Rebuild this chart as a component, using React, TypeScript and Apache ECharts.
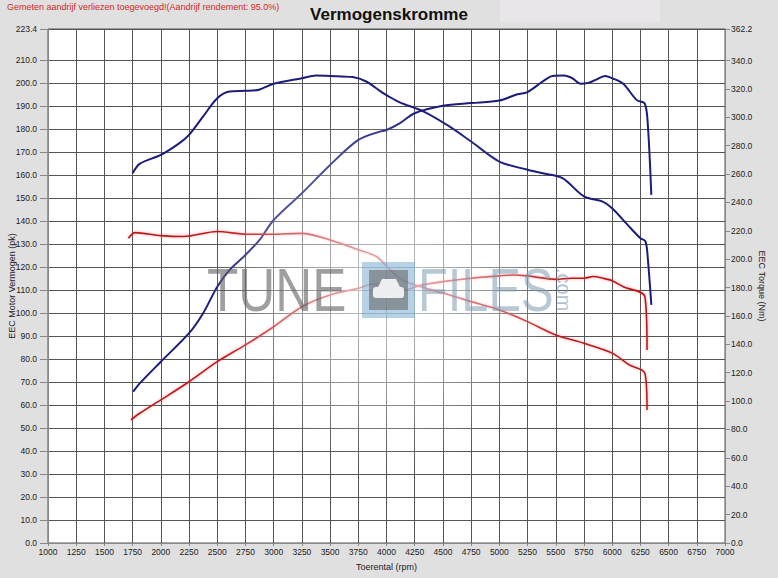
import React, { useEffect, useRef } from "react";
import * as echarts from "echarts";

// ---- Data ----
const tunedPowerRpm = [1755, 1813, 2000, 2250, 2375, 2500, 2610, 2750, 2875, 3000, 3250, 3500, 3750, 3940, 4000, 4120, 4250, 4500, 4750, 5000, 5146, 5250, 5385, 5470, 5573, 5647, 5721, 5795, 5854, 5937, 6000, 6098, 6216, 6290, 6317, 6347];
const tunedPowerPk = [65.8, 69.4, 78.8, 91.2, 99.9, 111.4, 118.7, 125.2, 131.7, 140.4, 152.0, 164.3, 175.2, 178.8, 179.5, 182.5, 186.8, 190.0, 191.2, 192.3, 194.8, 196.0, 200.6, 203.0, 203.2, 202.0, 199.6, 200.1, 201.3, 203.0, 202.0, 199.6, 192.6, 190.9, 181.0, 151.3];

const tunedTorqueRpm = [1750, 1812, 2000, 2165, 2250, 2375, 2500, 2610, 2750, 2870, 3000, 3250, 3375, 3500, 3700, 3820, 3950, 4030, 4117, 4330, 4550, 4750, 5000, 5250, 5385, 5560, 5750, 5916, 6000, 6151, 6250, 6296, 6317, 6347];
const tunedTorqueNm = [260.5, 267.2, 273.5, 281.8, 287.6, 300.6, 313.4, 318.1, 318.6, 319.4, 323.6, 327.5, 329.4, 329.1, 328.3, 325.2, 318.1, 314.2, 310.5, 304.0, 293.9, 282.9, 268.8, 263.0, 260.5, 257.1, 244.2, 240.6, 235.9, 222.9, 214.8, 212.4, 199.4, 167.8];

const stockPowerRpm = [1735, 1813, 2000, 2250, 2500, 2750, 3000, 3250, 3500, 3750, 3880, 3998, 4100, 4146, 4323, 4500, 4750, 5000, 5117, 5250, 5500, 5638, 5750, 5833, 5916, 6000, 6098, 6290, 6309];
const stockPowerPk = [53.5, 56.4, 62.2, 70.1, 78.8, 86.1, 94.0, 102.7, 107.8, 110.7, 112.6, 112.2, 110.3, 110.0, 112.2, 113.6, 115.1, 116.1, 116.5, 116.1, 114.6, 115.1, 115.1, 115.8, 115.1, 114.0, 111.4, 107.1, 83.9];

const stockTorqueRpm = [1713, 1772, 2000, 2198, 2500, 2760, 3000, 3250, 3500, 3750, 3910, 4028, 4117, 4205, 4500, 4750, 5000, 5250, 5500, 5750, 6000, 6151, 6290, 6309];
const stockTorqueNm = [214.8, 218.7, 216.6, 216.0, 219.5, 217.6, 217.6, 218.2, 213.5, 206.6, 201.9, 192.9, 186.6, 183.0, 176.1, 170.1, 164.2, 156.0, 146.6, 140.7, 133.8, 125.5, 119.7, 93.7];

const leftTicks = [0, 10, 20, 30, 40, 50, 60, 70, 80, 90, 100, 110, 120, 130, 140, 150, 160, 170, 180, 190, 200, 210, 223.4];
const rightTicks = [0, 20, 40, 60, 80, 100, 120, 140, 160, 180, 200, 220, 240, 260, 280, 300, 320, 340, 362.2];

const titleText = "Vermogenskromme";
const noteText = "Gemeten aandrijf verliezen toegevoegd!(Aandrijf rendement: 95.0%)";

const zip = (xs: number[], ys: number[]) => xs.map((x, i) => [x, ys[i]]);

const FONT = "Liberation Sans, Arial, sans-serif";

export default function App() {
  const ref = useRef<HTMLDivElement>(null);

  useEffect(() => {
    if (!ref.current) return;
    const chart = echarts.init(ref.current, undefined, { renderer: "svg" });

    const blue = "#1c1c7c";
    const red = "#b8181c";
    const redLine = {
      color: red,
      width: 1.6,
      shadowColor: "rgba(255,80,80,0.55)",
      shadowBlur: 3,
    };
    const blueLine = { color: blue, width: 2 };

    const option: any = {
      animation: false,
      backgroundColor: "#e0e0e0",
      textStyle: { fontFamily: FONT },
      title: {
        text: titleText,
        left: "center",
        top: 1,
        textStyle: { fontSize: 17, fontWeight: "bold", color: "#111", fontFamily: FONT },
      },
      grid: {
        left: 48,
        right: 53,
        top: 29,
        bottom: 35,
        outerBoundsMode: "none",
        containLabel: false,
        show: true,
        backgroundColor: "#ffffff",
        borderColor: "#555",
        borderWidth: 1,
      },
      xAxis: {
        type: "value",
        min: 1000,
        max: 7000,
        interval: 250,
        name: "Toerental (rpm)",
        nameLocation: "middle",
        nameGap: 19,
        nameTextStyle: { fontSize: 9, color: "#222", fontFamily: FONT },
        axisLine: { show: true, lineStyle: { color: "#888" } },
        axisTick: { show: true, length: 3, lineStyle: { color: "#888" } },
        axisLabel: {
          fontSize: 8.5,
          color: "#222",
          margin: 4,
          fontFamily: FONT,
          formatter: (v: number) => String(v),
        },
        splitLine: { show: true, lineStyle: { color: "#555", width: 1 } },
      },
      yAxis: [
        {
          type: "value",
          position: "left",
          min: 0,
          max: 223.4,
          interval: 10,
          name: "EEC Motor Vermogen (pk)",
          nameLocation: "middle",
          nameGap: 32,
          nameMoveOverlap: false,
          nameTextStyle: { fontSize: 9, color: "#222", fontFamily: FONT },
          axisLine: { show: true, lineStyle: { color: "#888" } },
          axisTick: { show: true, length: 8, customValues: leftTicks, lineStyle: { color: "#888" } },
          axisLabel: {
            fontSize: 8.5,
            color: "#222",
            margin: 11,
            fontFamily: FONT,
            customValues: leftTicks,
            formatter: (v: number) => v.toFixed(1),
          },
          splitLine: { show: true, lineStyle: { color: "#555", width: 1 } },
        },
        {
          type: "value",
          position: "right",
          min: 0,
          max: 362.2,
          interval: 20,
          name: "EEC Torque (Nm)",
          nameLocation: "middle",
          nameRotate: -90,
          nameGap: 32,
          nameMoveOverlap: false,
          nameTextStyle: { fontSize: 9, color: "#222", fontFamily: FONT },
          axisLine: { show: true, lineStyle: { color: "#888" } },
          axisTick: { show: true, length: 5, customValues: rightTicks, lineStyle: { color: "#888" } },
          axisLabel: {
            fontSize: 8.5,
            color: "#222",
            margin: 6,
            fontFamily: FONT,
            customValues: rightTicks,
            formatter: (v: number) => v.toFixed(1),
          },
          splitLine: { show: false },
        },
      ],
      series: [
        {
          name: "Torque tuned",
          type: "line",
          yAxisIndex: 1,
          showSymbol: false,
          smooth: 0.3,
          lineStyle: blueLine,
          data: zip(tunedTorqueRpm, tunedTorqueNm),
        },
        {
          name: "Power tuned",
          type: "line",
          yAxisIndex: 0,
          showSymbol: false,
          smooth: 0.3,
          lineStyle: blueLine,
          data: zip(tunedPowerRpm, tunedPowerPk),
        },
        {
          name: "Torque stock",
          type: "line",
          yAxisIndex: 1,
          showSymbol: false,
          smooth: 0.3,
          lineStyle: redLine,
          data: zip(stockTorqueRpm, stockTorqueNm),
        },
        {
          name: "Power stock",
          type: "line",
          yAxisIndex: 0,
          showSymbol: false,
          smooth: 0.3,
          lineStyle: redLine,
          data: zip(stockPowerRpm, stockPowerPk),
        },
      ],
      graphic: [
        {
          type: "rect",
          z: 0,
          shape: { x: 500, y: 0, width: 160, height: 22 },
          style: { fill: "#e8e6e8" },
        },
        {
          type: "text",
          z: 10,
          x: 7,
          y: 7,
          style: {
            text: noteText,
            fontSize: 9,
            fill: "#d02828",
            fontFamily: FONT,
            verticalAlign: "middle",
          },
        },
        // watermark halo
        {
          type: "circle",
          z: 100,
          silent: true,
          shape: { cx: 388, cy: 288, r: 180 },
          style: {
            fill: new echarts.graphic.RadialGradient(0.5, 0.5, 0.5, [
              { offset: 0, color: "rgba(255,255,255,0.7)" },
              { offset: 0.6, color: "rgba(255,255,255,0.35)" },
              { offset: 1, color: "rgba(255,255,255,0)" },
            ]),
          },
        },
        {
          type: "text",
          z: 101,
          silent: true,
          x: 207,
          y: 290,
          scaleX: 0.84,
          style: {
            text: "TUNE",
            fontSize: 61,
            fill: "rgba(95,95,95,0.6)",
            fontFamily: FONT,
            verticalAlign: "middle",
          },
        },
        {
          type: "rect",
          z: 101,
          silent: true,
          shape: { x: 362, y: 262, width: 53, height: 56 },
          style: { fill: "rgba(110,165,205,0.5)" },
        },
        {
          type: "rect",
          z: 102,
          silent: true,
          shape: { x: 369, y: 270, width: 39, height: 40 },
          style: { fill: "rgba(105,105,105,0.6)" },
        },
        {
          type: "rect",
          z: 103,
          silent: true,
          shape: { x: 373, y: 287, width: 31, height: 11, r: 3 },
          style: { fill: "rgba(255,255,255,0.85)" },
        },
        {
          type: "polygon",
          z: 103,
          silent: true,
          shape: { points: [[378, 287], [382, 279], [396, 279], [400, 287]] },
          style: { fill: "rgba(255,255,255,0.85)" },
        },
        {
          type: "text",
          z: 101,
          silent: true,
          x: 418,
          y: 290,
          scaleX: 0.8,
          style: {
            text: "FILES",
            fontSize: 61,
            fill: "rgba(125,155,178,0.55)",
            fontFamily: FONT,
            verticalAlign: "middle",
          },
        },
        {
          type: "text",
          z: 101,
          silent: true,
          x: 564,
          y: 268,
          rotation: -Math.PI / 2,
          style: {
            text: ".com",
            fontSize: 20,
            fill: "rgba(125,155,178,0.6)",
            fontFamily: FONT,
            verticalAlign: "middle",
          },
        },
      ],
    };

    chart.setOption(option);
    return () => {
      chart.dispose();
    };
  }, []);

  return (
    <div
      ref={ref}
      style={{ position: "fixed", left: 0, top: 0, width: 778, height: 578 }}
    />
  );
}
